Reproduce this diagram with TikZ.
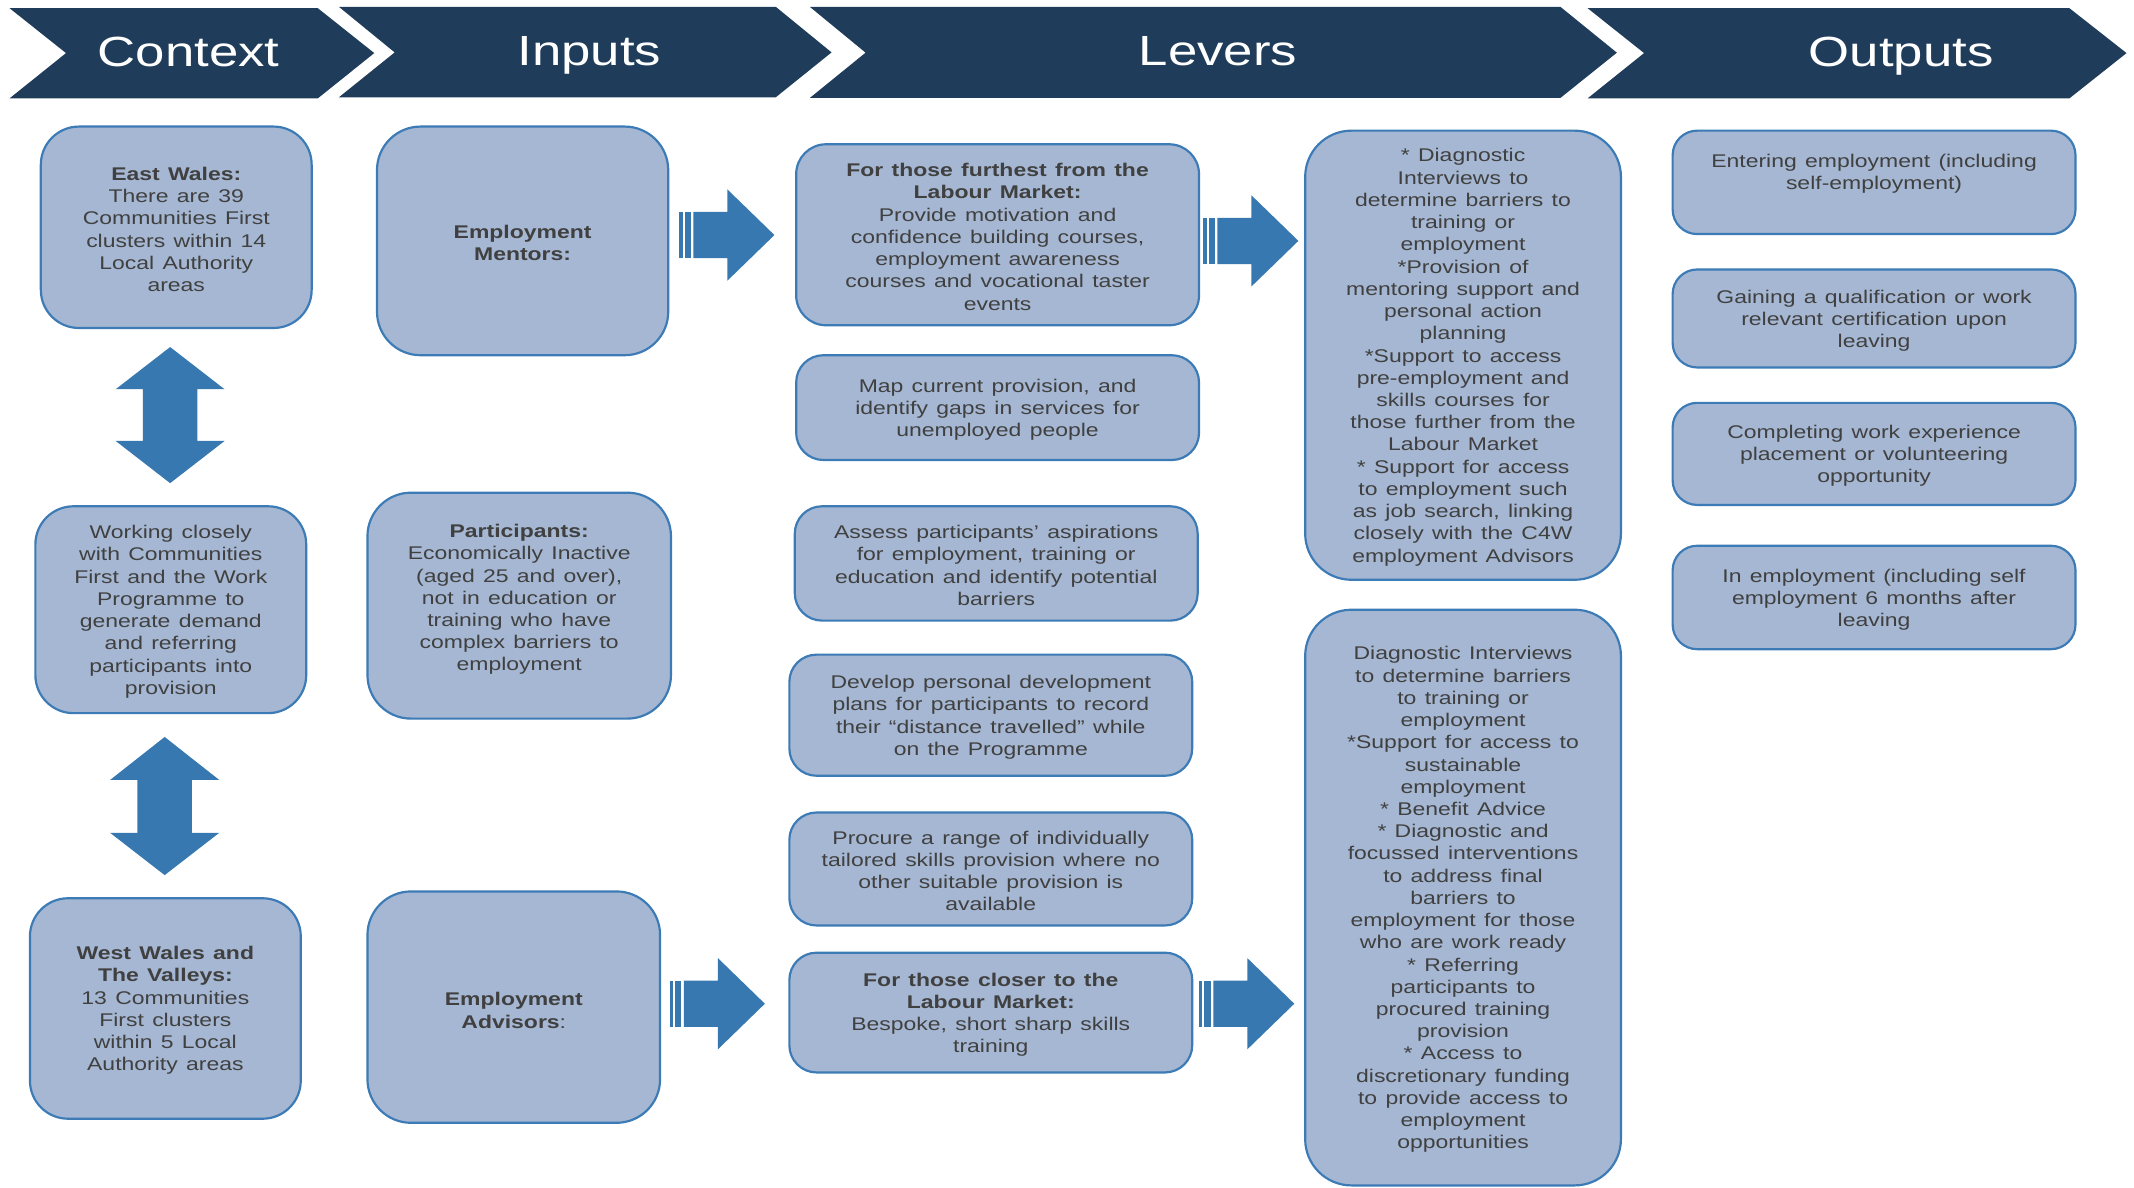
\documentclass[tikz,border=0pt]{standalone}
\usepackage{fontspec}
\setmainfont{Liberation Sans}[FakeStretch=1.25, WordSpace=1.3]
\definecolor{hdr}{HTML}{1F3D5A}
\definecolor{boxfill}{HTML}{A5B7D2}
\definecolor{boxline}{HTML}{3C7BB6}
\definecolor{arrowc}{HTML}{3878B0}
\definecolor{txtc}{HTML}{404040}
\newcommand{\stripearrow}[2]{%
  \fill[arrowc] (#1,#2-17) rectangle (#1+2.5,#2+17);
  \fill[arrowc] (#1+4,#2-17) rectangle (#1+8.5,#2+17);
  \fill[arrowc] (#1+10.5,#2-17) -- (#1+35.5,#2-17) -- (#1+35.5,#2-33.5) -- (#1+70,#2)
     -- (#1+35.5,#2+33.5) -- (#1+35.5,#2+17) -- (#1+10.5,#2+17) -- cycle;}
\tikzset{
  box/.style={draw=boxline, fill=boxfill, line width=1.6pt, inner sep=0pt},
  bodytxt/.style={align=center, inner sep=0pt, yshift=-1.5pt, text=txtc, font=\fontsize{13.5}{16.33}\selectfont},
  hdrtxt/.style={anchor=base, inner sep=0pt, text=white, font=\fontsize{31}{36}\selectfont},
}
\begin{document}
\begin{tikzpicture}[x=1pt,y=-1pt]
\useasboundingbox (0,0) rectangle (1568,872.2);
% header chevrons
\fill[hdr] (7,6) -- (233.5,6) -- (275,39) -- (233.5,72.3) -- (7,72.3) -- (48.5,39) -- cycle;
\fill[hdr] (249,5) -- (570,5) -- (611,38.5) -- (570,71.5) -- (249,71.5) -- (290,38.5) -- cycle;
\fill[hdr] (595,5) -- (1146.5,5) -- (1188,38.7) -- (1146.5,72) -- (595,72) -- (636,38.7) -- cycle;
\fill[hdr] (1166.5,6) -- (1520.5,6) -- (1562.5,39) -- (1520.5,72.3) -- (1166.5,72.3) -- (1208,39) -- cycle;
\node[hdrtxt] (hctx) at (138.5,49) {Context};
\node[hdrtxt] (hinp) at (433,48) {Inputs};
\node[hdrtxt] (hlev) at (895,48) {Levers};
\node[hdrtxt] (hout) at (1397,48.5) {Outputs};

% Context column
\node[box, minimum width=199pt, minimum height=148pt, rounded corners=28pt] (ew) at (129.5,167) {};
\node[bodytxt] (ewt) at (ew.center) {\textbf{East Wales:}\\There are 39\\Communities First\\clusters within 14\\Local Authority\\areas};
\node[box, minimum width=199pt, minimum height=152pt, rounded corners=28pt] (wc) at (125.5,448) {};
\node[bodytxt] (wct) at (wc.center) {Working closely\\with Communities\\First and the Work\\Programme to\\generate demand\\and referring\\participants into\\provision};
\node[box, minimum width=199pt, minimum height=162pt, rounded corners=28pt] (ww) at (121.5,741) {};
\node[bodytxt] (wwt) at (ww.center) {\textbf{West Wales and}\\\textbf{The Valleys:}\\13 Communities\\First clusters\\within 5 Local\\Authority areas};

% double arrows
\fill[arrowc] (125,255) -- (165,286) -- (145,286) -- (145,324) -- (165,324) -- (125,355)
  -- (85,324) -- (105,324) -- (105,286) -- (85,286) -- cycle;
\fill[arrowc] (121,541.5) -- (161,573) -- (141,573) -- (141,612) -- (161,612) -- (121,643)
  -- (81,612) -- (101,612) -- (101,573) -- (81,573) -- cycle;

% Inputs column
\node[box, minimum width=214pt, minimum height=168pt, rounded corners=32pt] (em) at (384,177) {};
\node[bodytxt] (emt) at (em.center) {\textbf{Employment}\\\textbf{Mentors:}};
\node[box, minimum width=223pt, minimum height=166pt, rounded corners=32pt] (pa) at (381.5,445) {};
\node[bodytxt] (pat) at (381.5,439) {\textbf{Participants:}\\Economically Inactive\\(aged 25 and over),\\not in education or\\training who have\\complex barriers to\\employment};
\node[box, minimum width=215pt, minimum height=170pt, rounded corners=32pt] (ea) at (377.5,740) {};
\node[bodytxt] (eat) at (377.5,741) {\textbf{Employment}\\\textbf{Advisors}:};

% Levers column 1
\node[box, minimum width=296pt, minimum height=133pt, rounded corners=22pt] (ff) at (733,172.5) {};
\node[bodytxt] (fft) at (ff.center) {\textbf{For those furthest from the}\\\textbf{Labour Market:}\\Provide motivation and\\confidence building courses,\\employment awareness\\courses and vocational taster\\events};
\node[box, minimum width=296pt, minimum height=77pt, rounded corners=20pt] (mc) at (733,299.5) {};
\node[bodytxt] (mct) at (mc.center) {Map current provision, and\\identify gaps in services for\\unemployed people};
\node[box, minimum width=296pt, minimum height=84pt, rounded corners=20pt] (as) at (732,414) {};
\node[bodytxt] (ast) at (as.center) {Assess participants’ aspirations\\for employment, training or\\education and identify potential\\barriers};
\node[box, minimum width=296pt, minimum height=89pt, rounded corners=20pt] (dv) at (728,525.5) {};
\node[bodytxt] (dvt) at (dv.center) {Develop personal development\\plans for participants to record\\their “distance travelled” while\\on the Programme};
\node[box, minimum width=296pt, minimum height=83pt, rounded corners=20pt] (pr) at (728,638.5) {};
\node[bodytxt] (prt) at (pr.center) {Procure a range of individually\\tailored skills provision where no\\other suitable provision is\\available};
\node[box, minimum width=296pt, minimum height=88pt, rounded corners=20pt] (cl) at (728,744) {};
\node[bodytxt] (clt) at (cl.center) {\textbf{For those closer to the}\\\textbf{Labour Market:}\\Bespoke, short sharp skills\\training};

% Levers column 2
\node[box, minimum width=232pt, minimum height=330pt, rounded corners=34pt] (d1) at (1075,261) {};
\node[bodytxt] (d1t) at (d1.center) {* Diagnostic\\Interviews to\\determine barriers to\\training or\\employment\\*Provision of\\mentoring support and\\personal action\\planning\\*Support to access\\pre-employment and\\skills courses for\\those further from the\\Labour Market\\* Support for access\\to employment such\\as job search, linking\\closely with the C4W\\employment Advisors};
\node[box, minimum width=232pt, minimum height=423pt, rounded corners=34pt] (d2) at (1075,659.5) {};
\node[bodytxt] (d2t) at (d2.center) {Diagnostic Interviews\\to determine barriers\\to training or\\employment\\*Support for access to\\sustainable\\employment\\* Benefit Advice\\* Diagnostic and\\focussed interventions\\to address final\\barriers to\\employment for those\\who are work ready\\* Referring\\participants to\\procured training\\provision\\* Access to\\discretionary funding\\to provide access to\\employment\\opportunities};

% Outputs column
\node[box, minimum width=296pt, minimum height=76pt, rounded corners=18pt] (o1) at (1377,134) {};
\node[bodytxt] (o1t) at (1377,126) {Entering employment (including\\self-employment)};
\node[box, minimum width=296pt, minimum height=72pt, rounded corners=18pt] (o2) at (1377,234) {};
\node[bodytxt] (o2t) at (o2.center) {Gaining a qualification or work\\relevant certification upon\\leaving};
\node[box, minimum width=296pt, minimum height=75pt, rounded corners=18pt] (o3) at (1377,333.5) {};
\node[bodytxt] (o3t) at (o3.center) {Completing work experience\\placement or volunteering\\opportunity};
\node[box, minimum width=296pt, minimum height=76pt, rounded corners=18pt] (o4) at (1377,439) {};
\node[bodytxt] (o4t) at (o4.center) {In employment (including self\\employment 6 months after\\leaving};

% striped arrows
\stripearrow{499}{172.7}
\stripearrow{884}{177}
\stripearrow{492}{737.5}
\stripearrow{881}{737.5}
\end{tikzpicture}
\end{document}
